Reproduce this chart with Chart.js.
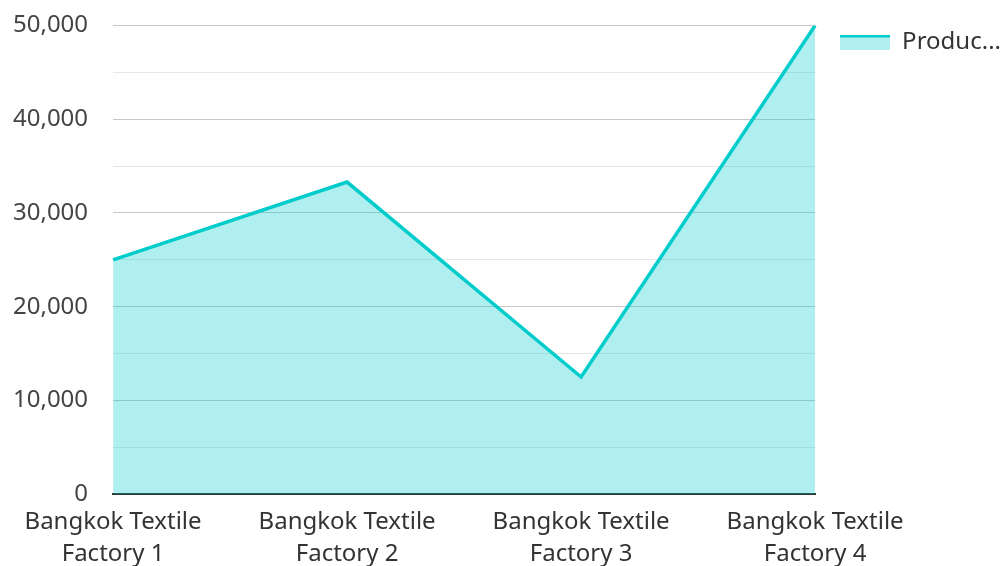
<!DOCTYPE html>
<html><head><meta charset="utf-8">
<script src="https://cdn.jsdelivr.net/npm/chart.js@4.4.1/dist/chart.umd.min.js"></script>
<style>html,body{margin:0;padding:0;background:#fff;}#wrap{width:1001px;height:566px;}</style>
</head><body><div id="wrap"><canvas id="c" width="1001" height="566"></canvas></div>
<script>
const categories = [["Bangkok Textile","Factory 1"],["Bangkok Textile","Factory 2"],["Bangkok Textile","Factory 3"],["Bangkok Textile","Factory 4"]];
const seriesName = "Production";
const productionValues = [25000, 33300, 12500, 50000];
const yTicks = [0, 10000, 20000, 30000, 40000, 50000];

const LINE = '#00cccc';
const FILL = 'rgba(0,204,204,0.31)';
const FONT = "'Noto Sans', 'Open Sans', sans-serif";

// legend swatch: top stripe in line colour, fill below
const sw = document.createElement('canvas');
sw.width = 50; sw.height = 15;
const sctx = sw.getContext('2d');
sctx.fillStyle = FILL; sctx.fillRect(0, 0, 50, 15);
sctx.fillStyle = LINE; sctx.fillRect(0, 0, 50, 3);

new Chart(document.getElementById('c'), {
  type: 'line',
  data: {
    labels: categories,
    datasets: [{
      label: seriesName,
      data: productionValues,
      borderColor: LINE,
      backgroundColor: FILL,
      borderWidth: 3.5,
      fill: 'origin',
      tension: 0,
      pointRadius: 0,
      pointHoverRadius: 0
    }]
  },
  options: {
    responsive: false,
    animation: false,
    layout: { padding: { top: -15, right: -10, bottom: -16, left: -12 } },
    plugins: {
      tooltip: { enabled: false },
      legend: {
        position: 'right',
        align: 'start',
        title: { display: true, text: ' ', font: { size: 1, lineHeight: 1 }, padding: { top: 0, bottom: 19 } },
        labels: {
          font: { family: FONT, size: 24 },
          color: '#333',
          usePointStyle: true,
          pointStyleWidth: 50,
          boxHeight: 15,
          padding: 25,
          generateLabels: (chart) => {
            const items = Chart.defaults.plugins.legend.labels.generateLabels(chart);
            items.forEach(it => { it.text = it.text.slice(0, 6) + '...'; it.pointStyle = sw; });
            return items;
          }
        }
      }
    },
    scales: {
      x: {
        offset: false,
        grid: { display: false, drawTicks: false },
        border: { display: true, color: '#333', width: 2 },
        ticks: { font: { family: FONT, size: 24, lineHeight: 1.33 }, color: '#333', padding: 12, maxRotation: 0 }
      },
      y: {
        min: 0, max: 50000,
        border: { display: false },
        grid: {
          drawTicks: false,
          color: (ctx) => (ctx.tick && ctx.tick.value % 10000 === 0) ? '#c8c8c8' : '#e6e6e6',
          lineWidth: 1
        },
        afterBuildTicks: (axis) => {
          const t = [];
          for (let v = 0; v <= 50000; v += 5000) t.push({ value: v });
          axis.ticks = t;
        },
        ticks: {
          font: { family: FONT, size: 24, lineHeight: '1px' },
          color: '#444',
          padding: 25,
          callback: (v) => yTicks.includes(v) ? v.toLocaleString('en-US') : ''
        }
      }
    }
  }
});
</script></body></html>
